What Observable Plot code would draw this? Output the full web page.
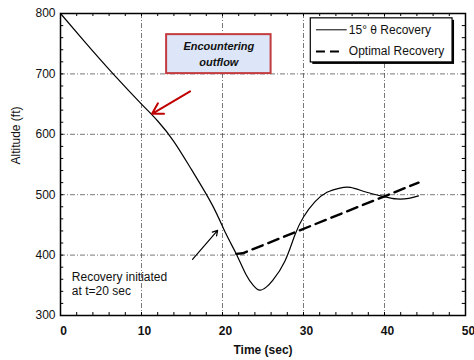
<!DOCTYPE html>
<html>
<head>
<meta charset="utf-8">
<script src="https://cdn.jsdelivr.net/npm/d3@7"></script>
<script src="https://cdn.jsdelivr.net/npm/@observablehq/plot@0.6"></script>
<style>
  html, body { margin: 0; padding: 0; background: #fff; }
  #chart svg { display: block; font-family: "Liberation Sans", Arial, Helvetica, sans-serif; }
</style>
</head>
<body>
<div id="chart"></div>
<script>
// Altitude history, 15° pitch-attitude recovery (time in s, altitude in ft)
const pitchTime = [0, 3, 6.5, 10, 12, 14, 16.2, 18.7, 20.4, 21.7, 22.9, 23.8, 24.6, 25.4, 26.2, 27.7, 28.9, 30, 31.4, 32.9, 34.5, 35.8, 37.8, 39.9, 41.5, 43, 44.2];
const pitchAlt  = [800, 753, 700, 650, 622, 588, 541, 484, 436, 402, 368, 350, 342, 347, 358, 390, 432, 463, 488, 504, 511, 512, 504, 497, 493, 494, 498];

// Optimal recovery trajectory
const optimalTime = [21.7, 22.5, 44.2];
const optimalAlt  = [402, 403, 520];

// Axis ticks
const xTicks = [0, 10, 20, 30, 40, 50];
const yTicks = [300, 400, 500, 600, 700, 800];
const xGrid = [10, 20, 30, 40];
const yGrid = [400, 500, 600, 700];
const xMinor = d3.range(0, 51, 2);
const yMinor = d3.range(300, 801, 20);

// Legend
const legendLabels = ["15° θ Recovery", "Optimal Recovery"];
const legendAlt = [773, 737];

// Annotations
const outflowLines = ["Encountering", "outflow"];
const outflowAlt = [746, 719];
const recoveryLines = ["Recovery initiated", "at t=20 sec"];
const recoveryAlt = [363, 340];

const pitch = pitchTime.map((t, i) => ({t, alt: pitchAlt[i]}));
const optimal = optimalTime.map((t, i) => ({t, alt: optimalAlt[i]}));

const font = "Liberation Sans, Arial, Helvetica, sans-serif";
const gridStyle = {stroke: "#555", strokeWidth: 0.8, strokeDasharray: "5,2,1,2"};

const chart = Plot.plot({
  width: 474,
  height: 360,
  marginLeft: 60,
  marginRight: 9,
  marginTop: 13,
  marginBottom: 45,
  style: {fontFamily: font, background: "#fff"},
  x: {domain: [0, 50]},
  y: {domain: [300, 800]},
  marks: [
    // dash-dot grid
    Plot.ruleX(xGrid, {...gridStyle}),
    Plot.ruleY(yGrid, {...gridStyle}),
    // inward minor ticks on all four sides
    Plot.ruleX(xMinor, {y1: 300, y2: 305, stroke: "#000", strokeWidth: 1}),
    Plot.ruleX(xMinor, {y1: 800, y2: 795, stroke: "#000", strokeWidth: 1}),
    Plot.ruleY(yMinor, {x1: 0, x2: 0.4, stroke: "#000", strokeWidth: 1}),
    Plot.ruleY(yMinor, {x1: 50, x2: 49.6, stroke: "#000", strokeWidth: 1}),
    Plot.frame({stroke: "#000", strokeWidth: 1.5}),
    // axes
    Plot.axisY(yTicks, {tickSize: 0, tickPadding: 5, fontSize: 12, label: null, fill: "#111"}),
    Plot.axisX(xTicks, {tickSize: 0, tickPadding: 11, fontSize: 12, fontWeight: "bold", dx: 3, label: null, fill: "#111"}),
    Plot.text(["Time (sec)"], {frameAnchor: "bottom", dy: 38, fontSize: 12, fontWeight: "bold", fill: "#111"}),
    Plot.text(["Altitude (ft)"], {frameAnchor: "left", dx: -44, rotate: -90, fontSize: 12, fill: "#111"}),
    // trajectories
    Plot.line(pitch, {x: "t", y: "alt", curve: "natural", stroke: "#000", strokeWidth: 1.2}),
    Plot.line(optimal, {x: "t", y: "alt", stroke: "#000", strokeWidth: 2.4, strokeDasharray: "11,6"}),
    // "Encountering outflow" callout
    Plot.rect([0], {x1: 13.1, x2: 26.0, y1: 700.5, y2: 765, fill: "#dce6f8", stroke: "#c23b3e", strokeWidth: 2}),
    Plot.text(outflowLines, {x: 19.55, y: (d, i) => outflowAlt[i], text: d => d, fontSize: 11, fontWeight: "bold", fontStyle: "italic", fill: "#111", letterSpacing: "0.4px"}),
    Plot.arrow([0], {x1: 16.0, y1: 671, x2: 11.3, y2: 634, stroke: "#c00000", strokeWidth: 2, headLength: 9}),
    // "Recovery initiated" callout
    Plot.text(recoveryLines, {x: 1.4, y: (d, i) => recoveryAlt[i], text: d => d, textAnchor: "start", fontSize: 12, fill: "#111"}),
    Plot.arrow([0], {x1: 16.3, y1: 393, x2: 19.4, y2: 441, stroke: "#000", strokeWidth: 1.2, headLength: 7}),
    // legend with drop shadow
    Plot.rect([0], {x1: 30.9, x2: 48.4, y1: 719, y2: 792, fill: "#000", dx: 2, dy: 2}),
    Plot.rect([0], {x1: 30.9, x2: 48.4, y1: 719, y2: 792, fill: "#fff", stroke: "#000", strokeWidth: 1.2}),
    Plot.ruleY([legendAlt[0]], {x1: 31.6, x2: 35.4, stroke: "#000", strokeWidth: 1}),
    Plot.ruleY([legendAlt[1]], {x1: 31.6, x2: 34.9, stroke: "#000", strokeWidth: 2, strokeDasharray: "9,5"}),
    Plot.text(legendLabels, {x: 35.6, y: (d, i) => legendAlt[i], text: d => d, textAnchor: "start", fontSize: 12, fill: "#111"})
  ]
});

document.getElementById("chart").appendChild(chart);
</script>
</body>
</html>
